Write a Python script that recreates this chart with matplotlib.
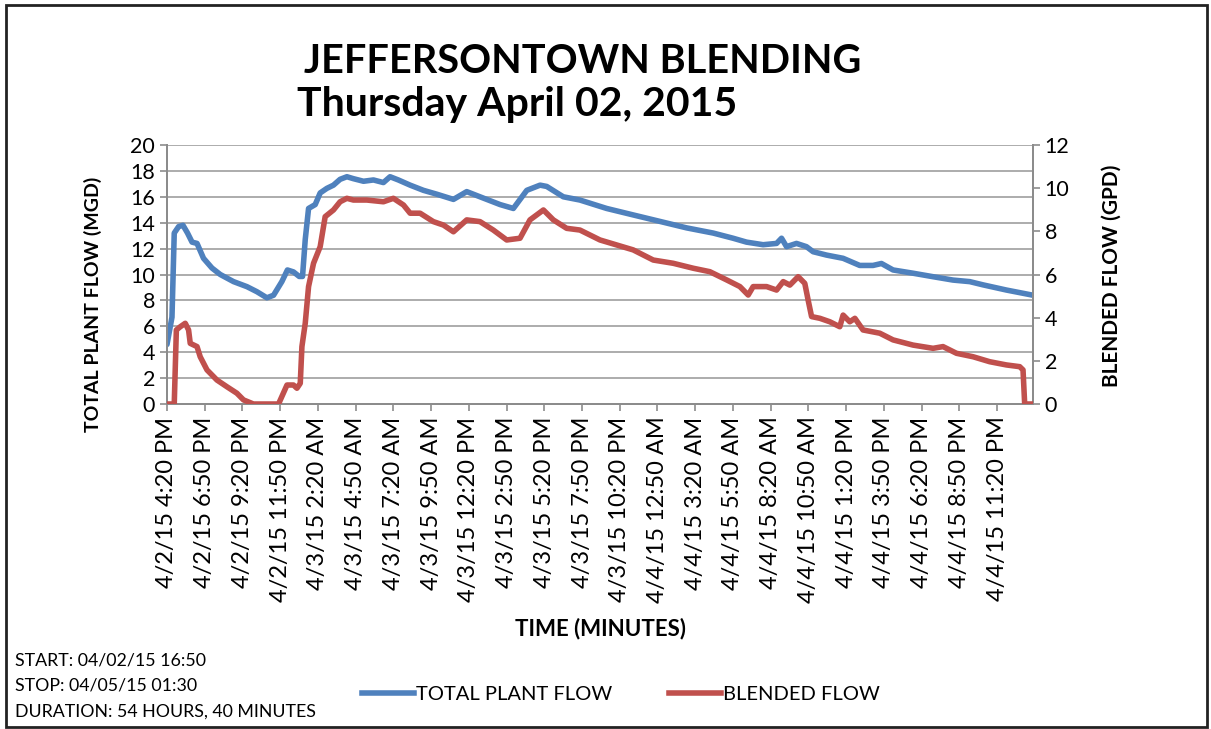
import matplotlib
matplotlib.use("Agg")
import matplotlib.pyplot as plt
from matplotlib.patches import Rectangle

plt.rcParams['font.family'] = ['Lato', 'DejaVu Sans']

# hours since 4/2/15 4:20 PM
total_hours = [0.0, 0.33, 0.48, 0.77, 1.06, 1.36, 1.66, 1.99, 2.42, 2.98, 3.53, 4.41,
               5.30, 5.96, 6.62, 7.06, 7.61, 7.98, 8.38, 8.76, 8.98, 9.16, 9.38, 9.82,
               10.15, 10.59, 11.03, 11.47, 11.92, 12.35, 13.02, 13.68, 14.34, 14.78,
               15.33, 16.11, 16.99, 17.88, 18.98, 19.86, 20.74, 22.07, 22.95, 23.84,
               24.72, 25.16, 26.26, 27.36, 29.13, 30.89, 32.66, 34.43, 36.19, 37.51,
               38.40, 39.50, 40.39, 40.72, 41.05, 41.71, 42.37, 42.81, 43.70, 44.80,
               45.90, 46.78, 47.34, 48.11, 49.43, 50.76, 52.08, 53.19, 54.07, 55.62, 57.38]
total_flow = [4.6, 6.7, 13.2, 13.7, 13.8, 13.2, 12.5, 12.4, 11.25, 10.5, 10.0, 9.45,
              9.06, 8.67, 8.2, 8.4, 9.45, 10.35, 10.2, 9.85, 9.85, 12.7, 15.1, 15.4,
              16.3, 16.65, 16.9, 17.35, 17.55, 17.4, 17.2, 17.3, 17.1, 17.55,
              17.3, 16.9, 16.5, 16.2, 15.8, 16.4, 16.0, 15.4, 15.1, 16.5,
              16.9, 16.8, 16.0, 15.75, 15.1, 14.6, 14.1, 13.6, 13.2, 12.8,
              12.5, 12.3, 12.4, 12.8, 12.15, 12.4, 12.15, 11.76, 11.5, 11.25,
              10.7, 10.7, 10.85, 10.35, 10.1, 9.83, 9.57, 9.45, 9.2, 8.8, 8.4]

blend_hours = [0.0, 0.48, 0.62, 0.88, 1.21, 1.43, 1.54, 1.99, 2.20, 2.65, 3.31, 3.97,
               4.63, 5.07, 5.73, 7.39, 7.95, 8.38, 8.61, 8.83, 8.94, 9.16, 9.38, 9.71,
               10.15, 10.48, 11.03, 11.47, 11.92, 12.35, 13.24, 14.34, 15.00, 15.67,
               16.11, 16.77, 17.65, 18.32, 18.98, 19.86, 20.74, 21.62, 22.51, 23.39,
               24.05, 24.94, 25.60, 26.48, 27.36, 28.69, 29.79, 30.89, 32.22, 33.54,
               34.87, 35.97, 37.08, 37.96, 38.51, 38.84, 39.73, 40.39, 40.83, 41.27,
               41.82, 42.26, 42.48, 42.71, 43.26, 43.92, 44.58, 44.80, 45.24, 45.58,
               46.12, 47.23, 48.11, 49.43, 50.76, 51.42, 52.31, 53.41, 54.51, 55.62,
               56.50, 56.72, 56.83, 57.38]
blend_flow = [0.0, 0.0, 3.43, 3.58, 3.74, 3.43, 2.81, 2.66, 2.19, 1.58, 1.11, 0.8,
              0.5, 0.19, 0.0, 0.0, 0.88, 0.88, 0.73, 0.96, 2.66, 3.74, 5.44, 6.52,
              7.29, 8.68, 8.99, 9.37, 9.53, 9.45, 9.45, 9.37, 9.53, 9.22,
              8.84, 8.84, 8.45, 8.29, 7.98, 8.53, 8.45, 8.06, 7.6, 7.68,
              8.53, 8.99, 8.53, 8.14, 8.06, 7.6, 7.37, 7.14, 6.67, 6.52,
              6.29, 6.13, 5.75, 5.44, 5.05, 5.44, 5.44, 5.28, 5.67, 5.51,
              5.9, 5.59, 4.82, 4.05, 3.97, 3.81, 3.58, 4.12, 3.81, 3.97,
              3.43, 3.28, 2.97, 2.73, 2.58, 2.66, 2.35, 2.19, 1.96, 1.81,
              1.73, 1.58, 0.0, 0.0]

tick_labels = ['4/2/15 4:20 PM', '4/2/15 6:50 PM', '4/2/15 9:20 PM', '4/2/15 11:50 PM',
               '4/3/15 2:20 AM', '4/3/15 4:50 AM', '4/3/15 7:20 AM', '4/3/15 9:50 AM',
               '4/3/15 12:20 PM', '4/3/15 2:50 PM', '4/3/15 5:20 PM', '4/3/15 7:50 PM',
               '4/3/15 10:20 PM', '4/4/15 12:50 AM', '4/4/15 3:20 AM', '4/4/15 5:50 AM',
               '4/4/15 8:20 AM', '4/4/15 10:50 AM', '4/4/15 1:20 PM', '4/4/15 3:50 PM',
               '4/4/15 6:20 PM', '4/4/15 8:50 PM', '4/4/15 11:20 PM']
tick_hours = [2.5 * i for i in range(len(tick_labels))]

BLUE = '#4F81BD'
RED = '#C0504D'
GRAY = '#8c8c8c'

fig = plt.figure(figsize=(12.11, 7.29), dpi=100)
ax = fig.add_axes([0.1379, 0.4458, 0.7151, 0.3553])
ax2 = ax.twinx()

ax.plot(total_hours, total_flow, color=BLUE, lw=4, solid_joinstyle='round',
        solid_capstyle='round', zorder=3)
ax2.plot(blend_hours, blend_flow, color=RED, lw=4, solid_joinstyle='round',
         solid_capstyle='round', zorder=3)

ax.set_xlim(0, 57.38)
ax.set_ylim(0, 20)
ax2.set_ylim(0, 12)
ax.set_yticks(range(0, 21, 2))
ax2.set_yticks(range(0, 13, 2))
ax.set_xticks(tick_hours)
ax.set_xticklabels(tick_labels, rotation=90)

ax.grid(axis='y', color='#a6a6a6', lw=1.3)
ax.set_axisbelow(True)

for a in (ax, ax2):
    for s in a.spines.values():
        s.set_color(GRAY)
        s.set_linewidth(1.4)
    a.spines['top'].set_visible(False)
    a.tick_params(color=GRAY, width=1.2, length=5, labelsize=15.5)
ax.tick_params(axis='x', labelsize=17, pad=4)

fig.text(0.481, 0.915, 'JEFFERSONTOWN BLENDING', ha='center', va='center',
         fontsize=28.5, fontweight='bold')
fig.text(0.427, 0.857, 'Thursday April 02, 2015', ha='center', va='center',
         fontsize=29.5, fontweight='bold')
fig.text(0.0768, 0.582, 'TOTAL PLANT FLOW (MGD)', rotation=90, ha='center', va='center',
         fontsize=14, fontweight='bold')
fig.text(0.918, 0.621, 'BLENDED FLOW (GPD)', rotation=90, ha='center', va='center',
         fontsize=15, fontweight='bold')
fig.text(0.496, 0.138, 'TIME (MINUTES)', ha='center', va='center',
         fontsize=16, fontweight='bold')

fig.text(0.012, 0.094, 'START: 04/02/15 16:50', fontsize=12.8, va='center')
fig.text(0.012, 0.059, 'STOP: 04/05/15 01:30', fontsize=12.8, va='center')
fig.text(0.012, 0.024, 'DURATION: 54 HOURS, 40 MINUTES', fontsize=12.8, va='center')

handles = [plt.Line2D([0], [0], color=BLUE, lw=4),
           plt.Line2D([0], [0], color=RED, lw=4)]
fig.legend(handles, ['TOTAL PLANT FLOW', 'BLENDED FLOW'], loc='center',
           bbox_to_anchor=(0.513, 0.047), ncol=2, frameon=False, fontsize=14.5,
           handlelength=2.6, handletextpad=0.1, columnspacing=2.8)

fig.patches.append(Rectangle((0.005, 0.003), 0.992, 0.99, transform=fig.transFigure,
                             fill=False, edgecolor='#222222', lw=2.0))

fig.savefig('out.png', dpi=100)
